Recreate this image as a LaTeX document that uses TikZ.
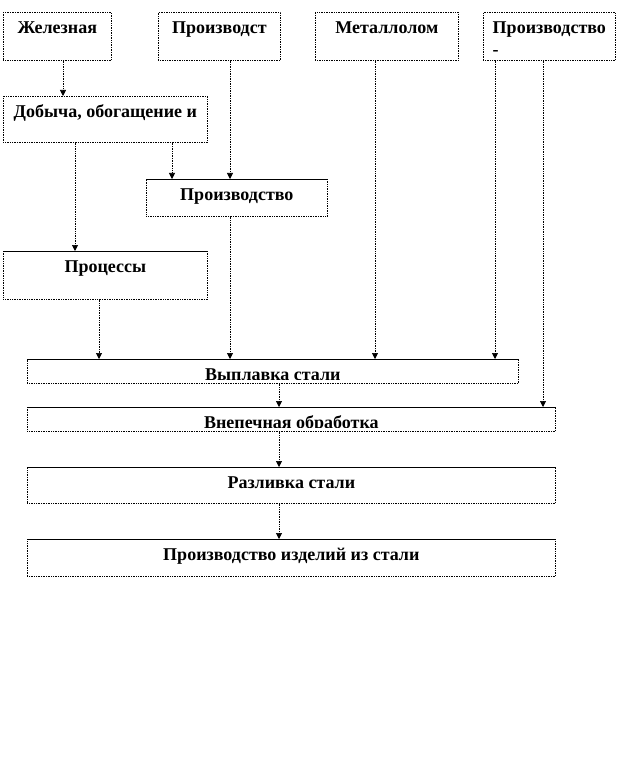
\documentclass[tikz,border=0pt]{standalone}
\usepackage{fontspec}
\setmainfont{Liberation Serif}
\usetikzlibrary{arrows.meta}
\tikzset{
  blk/.style={draw,densely dotted,line width=0.7pt,anchor=north west,inner sep=0pt,
    path picture={
      \clip ([yshift=4pt]path picture bounding box.south west) rectangle (path picture bounding box.north east);
      \node[btxt] at ([yshift=-21.5pt]path picture bounding box.north) {#1};}},
  btxt/.style={anchor=base,inner sep=0pt,align=center,font=\fontsize{18}{22}\selectfont\bfseries},
  conn/.style={densely dotted,line width=0.7pt,-{Triangle[length=6pt,width=6pt]}},
  topedge/.style={line width=0.8pt}
}
\begin{document}
\begin{tikzpicture}[x=1pt,y=-1pt]
  \useasboundingbox (0,0) rectangle (618,759);
  % upper row
  \node[blk={Железная},minimum width=108pt,minimum height=48pt] (ore) at (3,12) {};
  \node[blk={Производст},minimum width=122pt,minimum height=48pt] (prodA) at (158,12) {};
  \node[blk={Металлолом},minimum width=143pt,minimum height=48pt] (scrap) at (315,12) {};
  \node[blk={Производство\\-},btxt/.append style={align=left,yshift=-22pt},minimum width=132pt,minimum height=48pt] (ferro) at (483,12) {};
  % middle part
  \node[blk={Добыча, обогащение и},minimum width=204pt,minimum height=46pt] (mining) at (3,96) {};
  \node[blk={Производство},minimum width=181pt,minimum height=37pt] (pig) at (146,179) {};
  \node[blk={Процессы},minimum width=204pt,minimum height=48pt] (dri) at (3,251) {};
  % steel chain
  \node[blk={Выплавка стали},minimum width=491pt,minimum height=24pt] (melt) at (27,359) {};
  \node[blk={Внепечная обработка},minimum width=528pt,minimum height=24pt] (ladle) at (27,407) {};
  \node[blk={Разливка стали},minimum width=528pt,minimum height=36pt] (cast) at (27,467) {};
  \node[blk={Производство изделий из стали},minimum width=528pt,minimum height=37pt] (goods) at (27,539) {};
  \foreach \b in {pig,dri,melt,ladle,cast,goods}
    \draw[topedge] (\b.north west) -- (\b.north east);
  % arrows
  \draw[conn] (ore.south -| 63,0) -- (mining.north -| 63,0);
  \draw[conn] (prodA.south -| 230,0) -- (pig.north -| 230,0);
  \draw[conn] (mining.south -| 172,0) -- (pig.north -| 172,0);
  \draw[conn] (mining.south -| 75,0) -- (dri.north -| 75,0);
  \draw[conn] (dri.south -| 99,0) -- (melt.north -| 99,0);
  \draw[conn] (pig.south -| 230,0) -- (melt.north -| 230,0);
  \draw[conn] (scrap.south -| 375,0) -- (melt.north -| 375,0);
  \draw[conn] (ferro.south -| 495,0) -- (melt.north -| 495,0);
  \draw[conn] (ferro.south -| 543,0) -- (ladle.north -| 543,0);
  \draw[conn] (melt.south -| 279,0) -- (ladle.north -| 279,0);
  \draw[conn] (ladle.south -| 279,0) -- (cast.north -| 279,0);
  \draw[conn] (cast.south -| 279,0) -- (goods.north -| 279,0);
\end{tikzpicture}
\end{document}
